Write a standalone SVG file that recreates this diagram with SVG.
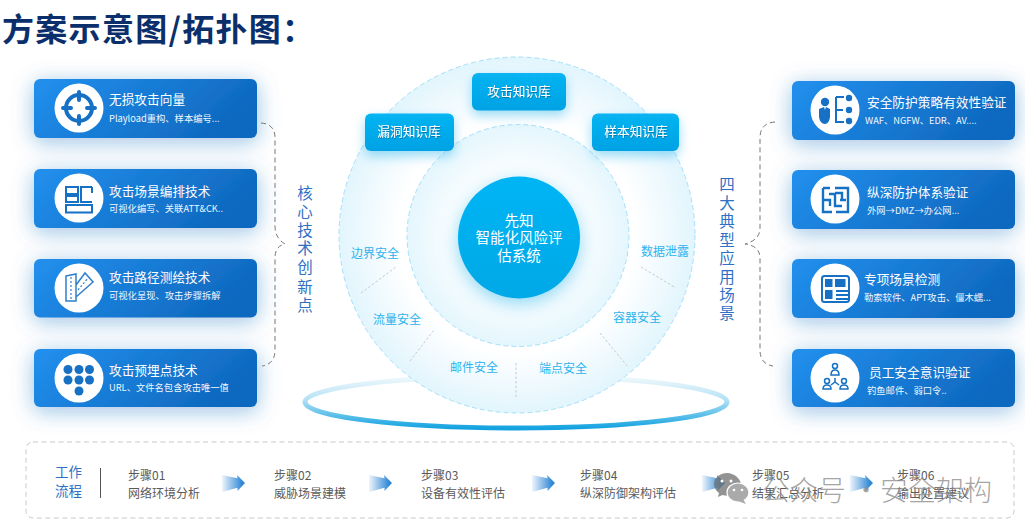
<svg xmlns="http://www.w3.org/2000/svg" width="1025" height="531" viewBox="0 0 1025 531">
<defs>
<linearGradient id="cardFill" x1="0" y1="0" x2="1" y2="0.3"><stop offset="0" stop-color="#2290ee"/><stop offset="1" stop-color="#0f69bf"/></linearGradient>
<linearGradient id="kbFill" x1="0" y1="0" x2="0" y2="1"><stop offset="0" stop-color="#07b4f2"/><stop offset="1" stop-color="#02a2e4"/></linearGradient>
<linearGradient id="coreFill" x1="0" y1="0" x2="0" y2="1"><stop offset="0" stop-color="#04b5f5"/><stop offset="1" stop-color="#03a8e6"/></linearGradient>
<radialGradient id="outerFill" gradientUnits="userSpaceOnUse" cx="517" cy="235" r="178"><stop offset="0.66" stop-color="#ffffff"/><stop offset="1" stop-color="#e2f5fd"/></radialGradient>
<radialGradient id="midFill" gradientUnits="userSpaceOnUse" cx="518" cy="235" r="111"><stop offset="0.5" stop-color="#ffffff"/><stop offset="1" stop-color="#e4f6fd"/></radialGradient>
<linearGradient id="ringStroke" x1="0" y1="0" x2="0" y2="1"><stop offset="0" stop-color="#f2f9fd"/><stop offset="0.45" stop-color="#b5e2f5"/><stop offset="1" stop-color="#15a3e0"/></linearGradient>
<linearGradient id="arrowFill" x1="0" y1="0" x2="1" y2="0"><stop offset="0" stop-color="#2e86d6" stop-opacity="0.08"/><stop offset="0.88" stop-color="#2e86d6"/><stop offset="1" stop-color="#2e86d6"/></linearGradient>
<filter id="cardShadow" x="-30%" y="-60%" width="160%" height="230%"><feDropShadow dx="0" dy="4" stdDeviation="11" flood-color="#1a6cc0" flood-opacity="0.42"/></filter>
<filter id="kbShadow" x="-40%" y="-60%" width="180%" height="250%"><feDropShadow dx="0" dy="5" stdDeviation="6" flood-color="#0aa6e8" flood-opacity="0.4"/></filter>
<filter id="coreShadow" x="-40%" y="-40%" width="180%" height="190%"><feDropShadow dx="0" dy="5" stdDeviation="9" flood-color="#0aa6e8" flood-opacity="0.45"/></filter>
<filter id="textShadow" x="-10%" y="-30%" width="120%" height="170%"><feDropShadow dx="0.5" dy="1" stdDeviation="0.7" flood-color="#035f8c" flood-opacity="0.6"/></filter>
<g id="arrow"><path d="M0 -8L15.500 -4.800L15 -8L23 0L15.500 8L15.500 4.800L0 9Z" fill="url(#arrowFill)"/></g>
</defs>
<style>
text{font-family:"Noto Sans CJK SC","Noto Sans",sans-serif;dominant-baseline:central}
.card{fill:url(#cardFill);filter:url(#cardShadow)}
.disc{fill:#fff}
.ct{font-size:12.700px;fill:#fff}
.cs{font-size:9.300px;fill:#f0f7ff}
.ink{fill:#1670c4}
.inkl{fill:none;stroke:#1670c4;stroke-width:2}
.kb{fill:url(#kbFill);filter:url(#kbShadow)}
.kt{font-size:12.700px;fill:#fff;text-anchor:middle;filter:url(#textShadow)}
.seg{font-size:12px;fill:#2cb2ee;text-anchor:middle}
.vt{font-size:15.500px;fill:#2f70c4;text-anchor:middle}
.br{fill:none;stroke:#777;stroke-width:1;stroke-dasharray:5 3.500}
.dv{fill:none;stroke:#c5cbd0;stroke-width:1;stroke-dasharray:2.500 2}
.st{font-size:12px;fill:#5a5a5a}
.wm{font-size:28px;fill:#8c8c8c;fill-opacity:.78;font-weight:300}
</style>
<rect width="1025" height="531" fill="#fff"/>
<text id="title" x="2" y="26.500" font-size="32" font-weight="700" letter-spacing="1.300" fill="#0b2f6b">方案示意图/拓扑图：</text>

<g id="platform"><ellipse cx="516" cy="402" rx="211" ry="26" fill="#fff" stroke="url(#ringStroke)" stroke-width="5"/></g>
<g id="outer-circle"><circle cx="517" cy="235" r="178" fill="url(#outerFill)" stroke="#a5e0f9" stroke-width="1" stroke-dasharray="5 3"/></g>
<g id="middle-circle"><circle cx="518" cy="235.500" r="111" fill="url(#midFill)" stroke="#a5e0f9" stroke-width="1" stroke-dasharray="5 3"/></g>
<g id="core"><circle cx="519" cy="237.500" r="61" fill="url(#coreFill)" filter="url(#coreShadow)"/>
<text x="519" y="219.500" font-size="14.500" fill="#fff" text-anchor="middle">先知</text>
<text x="519" y="236.500" font-size="14.500" fill="#fff" text-anchor="middle">智能化风险评</text>
<text x="519" y="254.500" font-size="14.500" fill="#fff" text-anchor="middle">估系统</text></g>

<g id="kb-attack"><rect class="kb" x="472" y="73" width="94" height="37.500" rx="6"/><text class="kt" x="519" y="90.500">攻击知识库</text></g>
<g id="kb-vuln"><rect class="kb" x="365" y="113.500" width="89" height="37.500" rx="6"/><text class="kt" x="409" y="130.500">漏洞知识库</text></g>
<g id="kb-sample"><rect class="kb" x="592" y="113.500" width="87" height="37.500" rx="6"/><text class="kt" x="636" y="130.500">样本知识库</text></g>

<g id="seg-border"><text class="seg" x="375" y="252.500">边界安全</text></g>
<g id="seg-data"><text class="seg" x="665" y="250.500">数据泄露</text></g>
<g id="seg-flow"><text class="seg" x="397" y="318.500">流量安全</text></g>
<g id="seg-container"><text class="seg" x="637" y="316.500">容器安全</text></g>
<g id="seg-mail"><text class="seg" x="474" y="366.500">邮件安全</text></g>
<g id="seg-endpoint"><text class="seg" x="563" y="367.500">端点安全</text></g>

<g id="left-1"><rect class="card" x="34" y="79" width="223" height="59" rx="6"/><circle class="disc" cx="79" cy="108" r="24.500"/>
<circle cx="79" cy="108" r="13" fill="none" stroke="#1670c4" stroke-width="4"/>
<path d="M79 92V100M79 116V124M63 108H71M87 108H95" stroke="#1670c4" stroke-width="4" stroke-linecap="round"/>
<text class="ct" x="109" y="98.500">无损攻击向量</text><text class="cs" x="109" y="117.500">Playload重构、样本编号...</text></g>
<g id="left-2"><rect class="card" x="34" y="169" width="223" height="59" rx="6"/><circle class="disc" cx="79" cy="198" r="24.500"/>
<path class="inkl" d="M66 187H78V194H66ZM66 196H78V202H66ZM66 205H92V212.500H66ZM92 187H81V202H92"/>
<path d="M92 187V193" stroke="#1670c4" stroke-width="2"/>
<text class="ct" x="109" y="190.500">攻击场景编排技术</text><text class="cs" x="109" y="208">可视化编写、关联ATT&amp;CK..</text></g>
<g id="left-3"><rect class="card" x="34" y="259" width="223" height="58.500" rx="6"/><circle class="disc" cx="79" cy="288" r="24.500"/>
<path d="M66 276L76 274V301H66ZM76 285L85 273L93 282L76 297" fill="none" stroke="#2f7fcc" stroke-width="1.500"/>
<path d="M71 277V299M78 290L88 278" stroke="#2f7fcc" stroke-width="1.200" stroke-dasharray="2 2" fill="none"/>
<text class="ct" x="109" y="276.500">攻击路径测绘技术</text><text class="cs" x="109" y="294.500">可视化呈现、攻击步骤拆解</text></g>
<g id="left-4"><rect class="card" x="34" y="349" width="223" height="58" rx="6"/><circle class="disc" cx="79" cy="378" r="24.500"/>
<g class="ink"><circle cx="68" cy="369.500" r="4.500"/><circle cx="79" cy="369.500" r="4.500"/><circle cx="89.500" cy="369.500" r="4.500"/><circle cx="68" cy="380" r="4.500"/><circle cx="79" cy="380" r="4.500"/><circle cx="89.500" cy="380" r="4.500"/><circle cx="79" cy="391" r="4.500"/></g>
<text class="ct" x="109" y="369.500">攻击预埋点技术</text><text class="cs" x="109" y="386.500">URL、文件名包含攻击唯一值</text></g>

<g id="right-1"><rect class="card" x="792" y="81" width="223" height="59" rx="6"/><circle class="disc" cx="835" cy="110" r="24.500"/>
<circle class="ink" cx="825" cy="102" r="4.200"/><path class="ink" d="M819 109L824 107L825 110L826 107L830 109V117Q829 124 825 124Q820 124 819 117Z"/>
<path class="inkl" d="M836 97V123M836 97H844M836 110H843M836 122H844"/>
<g class="ink"><circle cx="849" cy="98" r="3.200"/><circle cx="849" cy="110" r="3.200"/><circle cx="849" cy="121" r="3.200"/></g>
<text class="ct" x="867" y="101.500">安全防护策略有效性验证</text><text class="cs" x="865" y="119.500">WAF、NGFW、EDR、AV....</text></g>
<g id="right-2"><rect class="card" x="792" y="170" width="223" height="59" rx="6"/><circle class="disc" cx="835" cy="199" r="24.500"/>
<path d="M823 188H830M835 188H848V212H836M823 188V212H832M823 200H830V206M835 193H842V200M829 194H835V206H842M846 200H840" fill="none" stroke="#1670c4" stroke-width="2.400"/>
<text class="ct" x="867" y="191.500">纵深防护体系验证</text><text class="cs" x="867" y="209.500">外网→DMZ→办公网...</text></g>
<g id="right-3"><rect class="card" x="792" y="259" width="223" height="59" rx="6"/><circle class="disc" cx="835" cy="288" r="24.500"/>
<rect x="822" y="276" width="27" height="26" rx="2.500" fill="none" stroke="#1670c4" stroke-width="2"/>
<g class="ink"><rect x="825" y="279" width="7.500" height="8"/><rect x="835" y="279" width="10.500" height="8"/><rect x="825" y="290" width="7.500" height="9"/><rect x="836" y="290" width="12" height="2"/><rect x="836" y="294" width="12" height="2"/><rect x="836" y="298" width="12" height="2"/></g>
<text class="ct" x="864" y="278.500">专项场景检测</text><text class="cs" x="864" y="296.500">勒索软件、APT攻击、僵木蠕...</text></g>
<g id="right-4"><rect class="card" x="792" y="349" width="223" height="58" rx="6"/><circle class="disc" cx="835" cy="378" r="24.500"/>
<g fill="none" stroke="#1670c4" stroke-width="1.500"><circle cx="835" cy="366" r="2.500"/><path d="M831 375Q831 370 835 370Q839 370 839 375Z"/><circle cx="827" cy="381" r="2.500"/><path d="M823 389Q823 385 827 385Q831 385 831 389Z"/><circle cx="844" cy="381" r="2.500"/><path d="M840 389Q840 385 844 385Q848 385 848 389Z"/><path d="M835 378V382M835 382L831 385M835 382L839 385"/></g>
<text class="ct" x="869" y="371.500">员工安全意识验证</text><text class="cs" x="867" y="389.500">钓鱼邮件、弱口令..</text></g>

<g id="label-left"><text class="vt" x="305" y="191.500">核</text><text class="vt" x="305" y="210.500">心</text><text class="vt" x="305" y="228.500">技</text><text class="vt" x="305" y="246.500">术</text><text class="vt" x="305" y="265.500">创</text><text class="vt" x="305" y="285.500">新</text><text class="vt" x="305" y="303.500">点</text></g>
<g id="label-right"><text class="vt" x="727" y="182.500">四</text><text class="vt" x="727" y="201.500">大</text><text class="vt" x="727" y="219.500">典</text><text class="vt" x="727" y="238.500">型</text><text class="vt" x="727" y="256.500">应</text><text class="vt" x="727" y="275.500">用</text><text class="vt" x="727" y="293.500">场</text><text class="vt" x="727" y="311.500">景</text></g>

<g id="connectors">
<path class="br" d="M261 123Q275 124 275 138V226Q275 238 285 244Q275 246 275 258V350Q275 364 262 366"/>
<path class="br" d="M775 122Q760 123 760 138V228Q760 240 745 244Q760 246 760 258V350Q760 364 773 366"/>
<path class="dv" d="M361 293L396 267M410 361L434 330M516 363V397M600 333L628 367M641 267L676 288"/>
<use href="#arrow" x="222" y="483"/><use href="#arrow" x="369" y="483"/><use href="#arrow" x="532" y="483"/><use href="#arrow" x="702" y="483"/><use href="#arrow" x="850" y="483"/>
</g>

<g id="workflow"><rect x="26" y="442" width="988" height="76" rx="7" fill="none" stroke="#c9c9c9" stroke-width="1" stroke-dasharray="5 3.500"/>
<text x="55" y="470.500" font-size="13.500" fill="#2f70c4">工作</text><text x="55" y="489.500" font-size="13.500" fill="#2f70c4">流程</text>
<path d="M100.500 468V498" stroke="#555" stroke-width="1"/></g>
<g id="step-1"><text class="st" x="128" y="474.500">步骤01</text><text class="st" x="128" y="492.500">网络环境分析</text></g>
<g id="step-2"><text class="st" x="274" y="474.500">步骤02</text><text class="st" x="274" y="492.500">威胁场景建模</text></g>
<g id="step-3"><text class="st" x="421" y="474.500">步骤03</text><text class="st" x="421" y="492.500">设备有效性评估</text></g>
<g id="step-4"><text class="st" x="580" y="474.500">步骤04</text><text class="st" x="580" y="492.500">纵深防御架构评估</text></g>
<g id="step-5"><text class="st" x="752" y="474.500">步骤05</text><text class="st" x="752" y="492.500">结果汇总分析</text></g>
<g id="step-6"><text class="st" x="897" y="474.500">步骤06</text><text class="st" x="897" y="492.500">输出处置建议</text></g>

<g id="watermark">
<path d="M727 473C719.500 473 714 478 714 484C714 488 716 491 719 493L718 497L722.500 495C724 495.500 726 495.700 728 495.700L741 484C740 478 734 473 727 473Z" fill="#6f6f6f" fill-opacity=".75"/>
<ellipse cx="738" cy="492.500" rx="11" ry="9.500" fill="#aaa" stroke="#fff" stroke-width="1.200"/>
<path d="M743 499L746 504L738 501Z" fill="#aaa"/>
<circle cx="722" cy="481" r="1.500" fill="#fff"/><circle cx="731" cy="481" r="1.500" fill="#fff"/><circle cx="734" cy="490" r="1.300" fill="#fff"/><circle cx="742" cy="490" r="1.300" fill="#fff"/>
<text class="wm" x="762" y="488.500">公众号</text><text class="wm" x="852" y="488.500">·</text><text class="wm" x="880" y="488.500">安全架构</text>
</g>
</svg>
